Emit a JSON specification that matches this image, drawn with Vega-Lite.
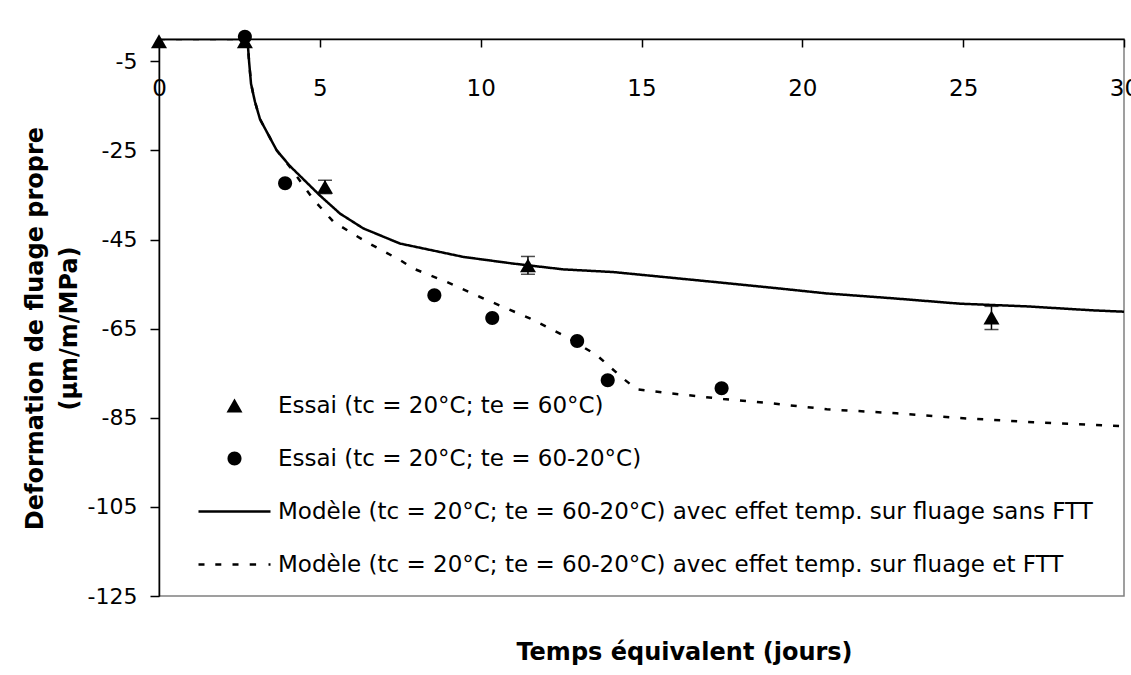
{
  "$schema": "https://vega.github.io/schema/vega-lite/v6.json",
  "width": 965,
  "height": 557,
  "autosize": {"type": "none"},
  "padding": {"left": 159, "top": 39, "right": 7, "bottom": 79},
  "background": "white",
  "config": {
    "font": "DejaVu Sans",
    "view": {"stroke": "#808080", "strokeWidth": 1.5},
    "axis": {
      "grid": false,
      "domainColor": "black",
      "domainWidth": 1.5,
      "tickColor": "black",
      "tickWidth": 1.5,
      "labelColor": "black",
      "titleColor": "black",
      "labelFont": "DejaVu Sans",
      "titleFont": "DejaVu Sans"
    },
    "legend": {
      "labelFont": "DejaVu Sans",
      "labelColor": "black"
    }
  },
  "datasets": {
    "lines": [
      {"series": "Modèle (tc = 20°C; te = 60-20°C) avec effet temp. sur fluage sans FTT", "t": 0, "v": 0},
      {"series": "Modèle (tc = 20°C; te = 60-20°C) avec effet temp. sur fluage sans FTT", "t": 2.72, "v": 0},
      {"series": "Modèle (tc = 20°C; te = 60-20°C) avec effet temp. sur fluage sans FTT", "t": 2.76, "v": -1.0},
      {"series": "Modèle (tc = 20°C; te = 60-20°C) avec effet temp. sur fluage sans FTT", "t": 2.8, "v": -5.0},
      {"series": "Modèle (tc = 20°C; te = 60-20°C) avec effet temp. sur fluage sans FTT", "t": 2.86, "v": -10.0},
      {"series": "Modèle (tc = 20°C; te = 60-20°C) avec effet temp. sur fluage sans FTT", "t": 2.98, "v": -14.0},
      {"series": "Modèle (tc = 20°C; te = 60-20°C) avec effet temp. sur fluage sans FTT", "t": 3.14, "v": -18.0},
      {"series": "Modèle (tc = 20°C; te = 60-20°C) avec effet temp. sur fluage sans FTT", "t": 3.4, "v": -21.5},
      {"series": "Modèle (tc = 20°C; te = 60-20°C) avec effet temp. sur fluage sans FTT", "t": 3.66, "v": -25.0},
      {"series": "Modèle (tc = 20°C; te = 60-20°C) avec effet temp. sur fluage sans FTT", "t": 4.07, "v": -28.5},
      {"series": "Modèle (tc = 20°C; te = 60-20°C) avec effet temp. sur fluage sans FTT", "t": 5.0, "v": -35.1},
      {"series": "Modèle (tc = 20°C; te = 60-20°C) avec effet temp. sur fluage sans FTT", "t": 5.63, "v": -39.2},
      {"series": "Modèle (tc = 20°C; te = 60-20°C) avec effet temp. sur fluage sans FTT", "t": 6.35, "v": -42.5},
      {"series": "Modèle (tc = 20°C; te = 60-20°C) avec effet temp. sur fluage sans FTT", "t": 7.49, "v": -45.9},
      {"series": "Modèle (tc = 20°C; te = 60-20°C) avec effet temp. sur fluage sans FTT", "t": 9.46, "v": -48.9},
      {"series": "Modèle (tc = 20°C; te = 60-20°C) avec effet temp. sur fluage sans FTT", "t": 11.01, "v": -50.4},
      {"series": "Modèle (tc = 20°C; te = 60-20°C) avec effet temp. sur fluage sans FTT", "t": 12.57, "v": -51.7},
      {"series": "Modèle (tc = 20°C; te = 60-20°C) avec effet temp. sur fluage sans FTT", "t": 14.12, "v": -52.3},
      {"series": "Modèle (tc = 20°C; te = 60-20°C) avec effet temp. sur fluage sans FTT", "t": 15.68, "v": -53.4},
      {"series": "Modèle (tc = 20°C; te = 60-20°C) avec effet temp. sur fluage sans FTT", "t": 17.23, "v": -54.5},
      {"series": "Modèle (tc = 20°C; te = 60-20°C) avec effet temp. sur fluage sans FTT", "t": 19.3, "v": -56.0},
      {"series": "Modèle (tc = 20°C; te = 60-20°C) avec effet temp. sur fluage sans FTT", "t": 20.76, "v": -57.1},
      {"series": "Modèle (tc = 20°C; te = 60-20°C) avec effet temp. sur fluage sans FTT", "t": 22.83, "v": -58.2},
      {"series": "Modèle (tc = 20°C; te = 60-20°C) avec effet temp. sur fluage sans FTT", "t": 24.9, "v": -59.4},
      {"series": "Modèle (tc = 20°C; te = 60-20°C) avec effet temp. sur fluage sans FTT", "t": 26.97, "v": -60.0},
      {"series": "Modèle (tc = 20°C; te = 60-20°C) avec effet temp. sur fluage sans FTT", "t": 29.04, "v": -60.9},
      {"series": "Modèle (tc = 20°C; te = 60-20°C) avec effet temp. sur fluage sans FTT", "t": 30, "v": -61.2},
      {"series": "Modèle (tc = 20°C; te = 60-20°C) avec effet temp. sur fluage et FTT", "t": 0, "v": 0},
      {"series": "Modèle (tc = 20°C; te = 60-20°C) avec effet temp. sur fluage et FTT", "t": 2.72, "v": 0},
      {"series": "Modèle (tc = 20°C; te = 60-20°C) avec effet temp. sur fluage et FTT", "t": 2.76, "v": -1.0},
      {"series": "Modèle (tc = 20°C; te = 60-20°C) avec effet temp. sur fluage et FTT", "t": 2.8, "v": -5.0},
      {"series": "Modèle (tc = 20°C; te = 60-20°C) avec effet temp. sur fluage et FTT", "t": 2.86, "v": -10.0},
      {"series": "Modèle (tc = 20°C; te = 60-20°C) avec effet temp. sur fluage et FTT", "t": 2.98, "v": -14.0},
      {"series": "Modèle (tc = 20°C; te = 60-20°C) avec effet temp. sur fluage et FTT", "t": 3.14, "v": -18.0},
      {"series": "Modèle (tc = 20°C; te = 60-20°C) avec effet temp. sur fluage et FTT", "t": 3.4, "v": -21.5},
      {"series": "Modèle (tc = 20°C; te = 60-20°C) avec effet temp. sur fluage et FTT", "t": 3.66, "v": -25.0},
      {"series": "Modèle (tc = 20°C; te = 60-20°C) avec effet temp. sur fluage et FTT", "t": 4.07, "v": -28.7},
      {"series": "Modèle (tc = 20°C; te = 60-20°C) avec effet temp. sur fluage et FTT", "t": 4.8, "v": -36.0},
      {"series": "Modèle (tc = 20°C; te = 60-20°C) avec effet temp. sur fluage et FTT", "t": 5.42, "v": -41.0},
      {"series": "Modèle (tc = 20°C; te = 60-20°C) avec effet temp. sur fluage et FTT", "t": 6.46, "v": -45.6},
      {"series": "Modèle (tc = 20°C; te = 60-20°C) avec effet temp. sur fluage et FTT", "t": 7.49, "v": -49.6},
      {"series": "Modèle (tc = 20°C; te = 60-20°C) avec effet temp. sur fluage et FTT", "t": 7.9, "v": -51.5},
      {"series": "Modèle (tc = 20°C; te = 60-20°C) avec effet temp. sur fluage et FTT", "t": 8.94, "v": -54.5},
      {"series": "Modèle (tc = 20°C; te = 60-20°C) avec effet temp. sur fluage et FTT", "t": 9.98, "v": -57.9},
      {"series": "Modèle (tc = 20°C; te = 60-20°C) avec effet temp. sur fluage et FTT", "t": 11.53, "v": -62.7},
      {"series": "Modèle (tc = 20°C; te = 60-20°C) avec effet temp. sur fluage et FTT", "t": 12.57, "v": -66.5},
      {"series": "Modèle (tc = 20°C; te = 60-20°C) avec effet temp. sur fluage et FTT", "t": 13.6, "v": -70.9},
      {"series": "Modèle (tc = 20°C; te = 60-20°C) avec effet temp. sur fluage et FTT", "t": 14.43, "v": -76.2},
      {"series": "Modèle (tc = 20°C; te = 60-20°C) avec effet temp. sur fluage et FTT", "t": 14.85, "v": -78.6},
      {"series": "Modèle (tc = 20°C; te = 60-20°C) avec effet temp. sur fluage et FTT", "t": 15.88, "v": -79.5},
      {"series": "Modèle (tc = 20°C; te = 60-20°C) avec effet temp. sur fluage et FTT", "t": 16.92, "v": -80.3},
      {"series": "Modèle (tc = 20°C; te = 60-20°C) avec effet temp. sur fluage et FTT", "t": 17.54, "v": -80.8},
      {"series": "Modèle (tc = 20°C; te = 60-20°C) avec effet temp. sur fluage et FTT", "t": 19.1, "v": -81.8},
      {"series": "Modèle (tc = 20°C; te = 60-20°C) avec effet temp. sur fluage et FTT", "t": 20.76, "v": -83.1},
      {"series": "Modèle (tc = 20°C; te = 60-20°C) avec effet temp. sur fluage et FTT", "t": 22.93, "v": -84.0},
      {"series": "Modèle (tc = 20°C; te = 60-20°C) avec effet temp. sur fluage et FTT", "t": 25.0, "v": -85.1},
      {"series": "Modèle (tc = 20°C; te = 60-20°C) avec effet temp. sur fluage et FTT", "t": 27.18, "v": -86.0},
      {"series": "Modèle (tc = 20°C; te = 60-20°C) avec effet temp. sur fluage et FTT", "t": 30, "v": -86.9}
    ],
    "points": [
      {"series": "Essai (tc = 20°C; te = 60°C)", "t": 0, "v": -0.5},
      {"series": "Essai (tc = 20°C; te = 60°C)", "t": 2.67, "v": -0.5},
      {"series": "Essai (tc = 20°C; te = 60°C)", "t": 5.16, "v": -33.2},
      {"series": "Essai (tc = 20°C; te = 60°C)", "t": 11.47, "v": -50.8},
      {"series": "Essai (tc = 20°C; te = 60°C)", "t": 25.88, "v": -62.5},
      {"series": "Essai (tc = 20°C; te = 60-20°C)", "t": 2.67, "v": 0.5},
      {"series": "Essai (tc = 20°C; te = 60-20°C)", "t": 3.92, "v": -32.4},
      {"series": "Essai (tc = 20°C; te = 60-20°C)", "t": 8.56, "v": -57.5},
      {"series": "Essai (tc = 20°C; te = 60-20°C)", "t": 10.36, "v": -62.6},
      {"series": "Essai (tc = 20°C; te = 60-20°C)", "t": 13.0, "v": -67.8},
      {"series": "Essai (tc = 20°C; te = 60-20°C)", "t": 13.95, "v": -76.6},
      {"series": "Essai (tc = 20°C; te = 60-20°C)", "t": 17.49, "v": -78.4}
    ],
    "errs": [
      {"t": 5.16, "v": -34.7, "v2": -31.7},
      {"t": 11.47, "v": -52.8, "v2": -48.8},
      {"t": 25.88, "v": -65.2, "v2": -60.0}
    ]
  },
  "layer": [
    {
      "data": {"name": "lines"},
      "mark": {"type": "line", "color": "black", "strokeWidth": 2.5, "clip": true},
      "encoding": {
        "x": {
          "field": "t", "type": "quantitative",
          "title": "Temps équivalent (jours)",
          "scale": {"domain": [0, 30], "nice": false, "zero": false},
          "axis": {
            "orient": "top",
            "values": [0, 5, 10, 15, 20, 25, 30],
            "tickSize": -8,
            "labelPadding": -48,
            "labelBaseline": "alphabetic",
            "labelFontSize": 23,
            "labelFlush": false,
            "labelOverlap": false,
            "titleFontSize": 24,
            "titleFontWeight": "bold",
            "titleX": 525,
            "titleY": 613,
            "titleBaseline": "middle",
            "titleAlign": "center"
          }
        },
        "y": {
          "field": "v", "type": "quantitative",
          "title": ["Deformation de fluage propre", "(µm/m/MPa)"],
          "scale": {"domain": [-125, 0], "nice": false, "zero": false},
          "axis": {
            "values": [-125, -105, -85, -65, -45, -25, -5],
            "labelExpr": "'' + datum.value",
            "tickSize": 9,
            "labelPadding": 13,
            "labelFontSize": 22,
            "titleFontSize": 24,
            "titleFontWeight": "bold",
            "titleAngle": -90,
            "titleAlign": "center",
            "titleBaseline": "middle",
            "titleLineHeight": 34,
            "titleX": -124,
            "titleY": 289
          }
        },
        "strokeDash": {
          "field": "series", "type": "nominal",
          "scale": {
            "domain": ["Modèle (tc = 20°C; te = 60-20°C) avec effet temp. sur fluage sans FTT", "Modèle (tc = 20°C; te = 60-20°C) avec effet temp. sur fluage et FTT"],
            "range": [[1, 0], [6, 11]]
          },
          "legend": null
        }
      }
    },
    {
      "data": {"name": "errs"},
      "mark": {"type": "errorbar", "color": "black", "ticks": {"size": 14, "thickness": 1.5, "color": "black"}, "rule": {"strokeWidth": 1.5, "color": "black"}},
      "encoding": {
        "x": {"field": "t", "type": "quantitative", "title": "Temps équivalent (jours)"},
        "y": {"field": "v", "type": "quantitative", "title": ["Deformation de fluage propre", "(µm/m/MPa)"]},
        "y2": {"field": "v2"}
      }
    },
    {
      "data": {"name": "points"},
      "mark": {"type": "point", "filled": true, "color": "black", "size": 256, "opacity": 1},
      "encoding": {
        "x": {"field": "t", "type": "quantitative", "title": "Temps équivalent (jours)"},
        "y": {"field": "v", "type": "quantitative", "title": ["Deformation de fluage propre", "(µm/m/MPa)"]},
        "shape": {
          "field": "series", "type": "nominal",
          "scale": {
            "domain": ["Essai (tc = 20°C; te = 60°C)", "Essai (tc = 20°C; te = 60-20°C)", "Modèle (tc = 20°C; te = 60-20°C) avec effet temp. sur fluage sans FTT", "Modèle (tc = 20°C; te = 60-20°C) avec effet temp. sur fluage et FTT"],
            "range": [
              "triangle-up",
              "M-0.875,0A0.875,0.875,0,1,0,0.875,0A0.875,0.875,0,1,0,-0.875,0Z",
              "M-4.5,-0.16H4.5V0.16H-4.5Z",
              "M-4.5,-0.16H-3.75V0.16H-4.5ZM-2.4,-0.16H-1.65V0.16H-2.4ZM-0.25,-0.16H0.5V0.16H-0.25ZM1.9,-0.16H2.7V0.16H1.9ZM4.25,-0.16H4.5V0.16H4.25Z"
            ]
          },
          "legend": {
            "title": null,
            "orient": "none",
            "legendX": 64,
            "legendY": 355,
            "padding": 0,
            "rowPadding": 29,
            "labelOffset": 32,
            "labelLimit": 1000,
            "labelFontSize": 23,
            "symbolSize": 256,
            "symbolFillColor": "black",
            "symbolStrokeColor": "black",
            "symbolStrokeWidth": 0,
            "symbolOpacity": 1
          }
        }
      }
    }
  ]
}
